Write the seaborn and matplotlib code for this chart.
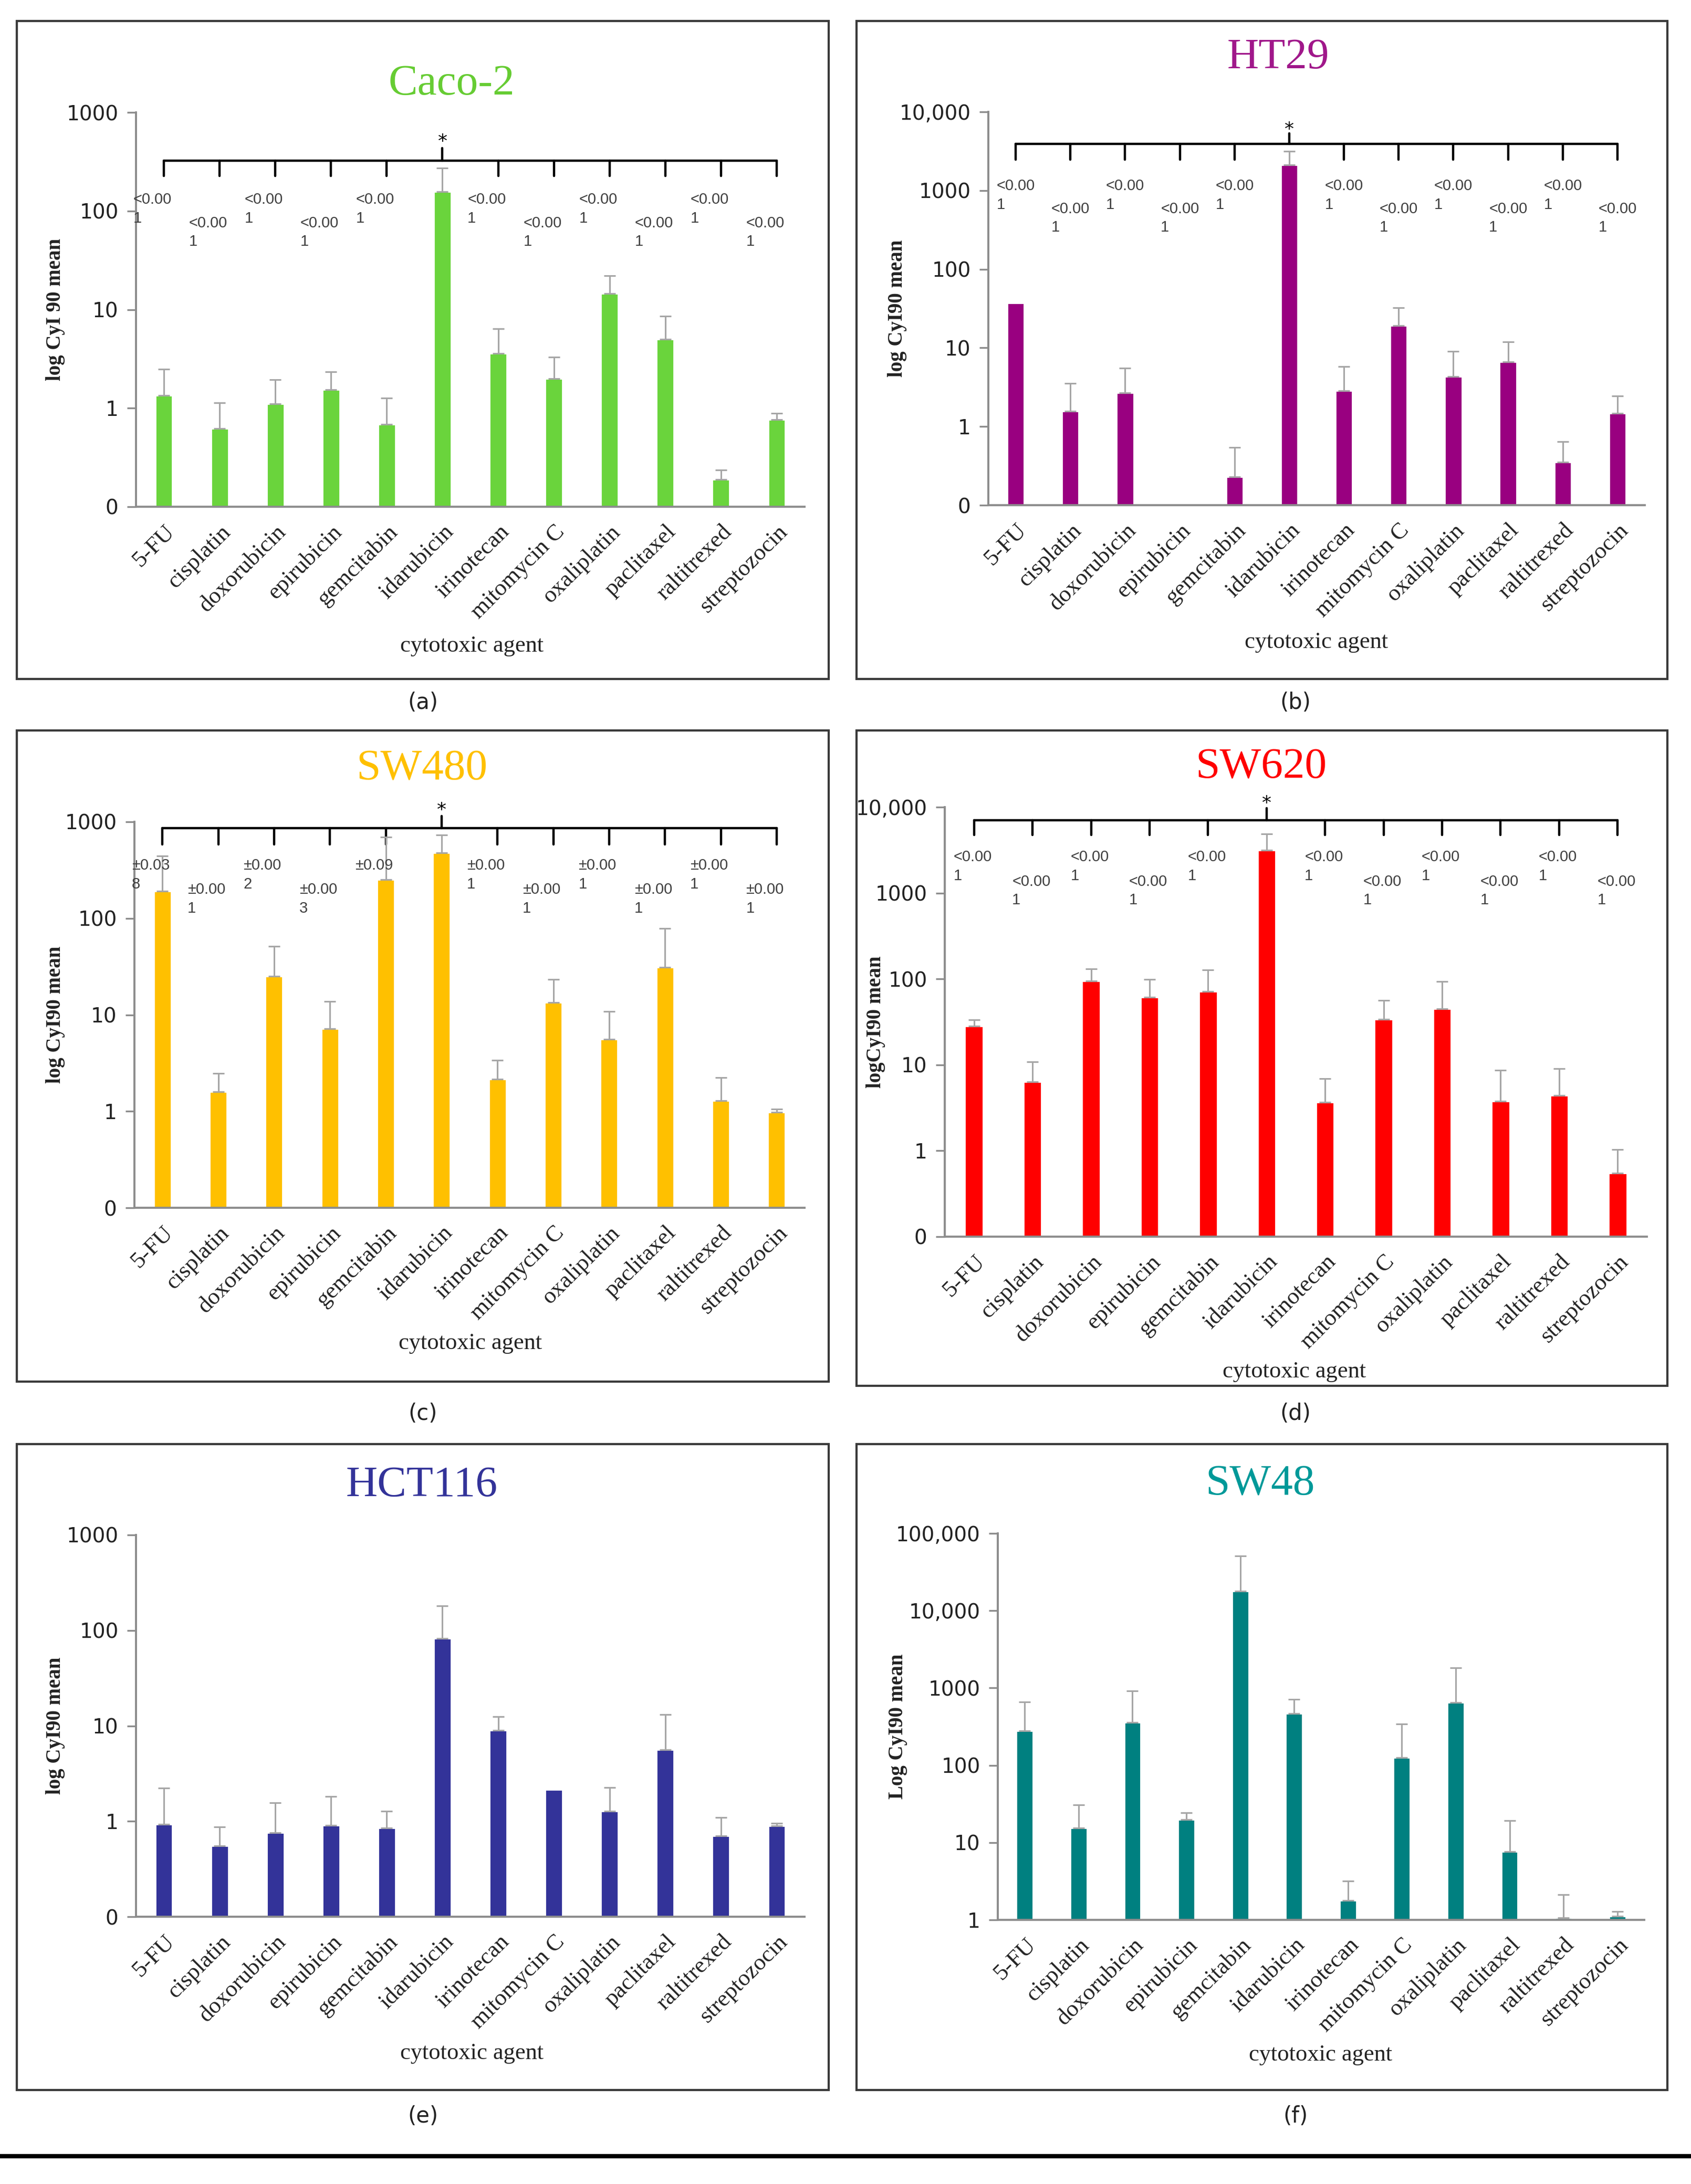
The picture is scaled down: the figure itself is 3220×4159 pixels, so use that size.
import numpy as np
import pandas as pd
import matplotlib
matplotlib.use("Agg")
import matplotlib.pyplot as plt
import seaborn as sns
from matplotlib.patches import Rectangle
from matplotlib.lines import Line2D
from matplotlib.transforms import blended_transform_factory
from matplotlib.ticker import NullLocator

# ---------------- data ----------------
agents = ["5-FU", "cisplatin", "doxorubicin", "epirubicin", "gemcitabin", "idarubicin",
          "irinotecan", "mitomycin C", "oxaliplatin", "paclitaxel", "raltitrexed", "streptozocin"]

caco2_mean = [1.35, 0.62, 1.10, 1.55, 0.69, 156, 3.6, 2.0, 14.5, 5.0, 0.19, 0.77]
caco2_sd = [1.15, 0.52, 0.85, 0.80, 0.58, 115, 2.8, 1.3, 7.5, 3.6, 0.045, 0.12]

ht29_mean = [37, 1.56, 2.7, np.nan, 0.23, 2110, 2.86, 19.3, 4.3, 6.6, 0.35, 1.48]
ht29_sd = [0, 2.0, 2.8, np.nan, 0.31, 1050, 2.9, 13, 4.7, 5.4, 0.29, 0.97]

sw480_mean = [191, 1.59, 25.2, 7.2, 251, 480, 2.16, 13.5, 5.6, 30.9, 1.29, 0.975]
sw480_sd = [250, 0.89, 26, 6.5, 446, 254, 1.24, 9.7, 5.2, 48, 0.94, 0.085]

sw620_mean = [28.2, 6.4, 95, 61, 72, 3140, 3.67, 34, 45, 3.8, 4.4, 0.55]
sw620_sd = [5.2, 4.5, 36, 38, 56, 1750, 3.2, 22, 48, 4.9, 4.6, 0.49]

hct116_mean = [0.935, 0.55, 0.76, 0.91, 0.85, 82.6, 8.95, 2.14, 1.27, 5.64, 0.70, 0.89]
hct116_sd = [1.29, 0.32, 0.80, 0.92, 0.42, 99, 3.55, 0, 1.0, 7.5, 0.40, 0.067]

sw48_mean = [277, 15.5, 360, 19.8, 17900, 469, 1.77, 126, 646, 7.7, 1.06, 1.12]
sw48_sd = [378, 15.2, 556, 4.5, 33300, 246, 1.39, 214, 1174, 11.6, 1.07, 0.16]

p_lt = ["<0.00\n1"] * 5 + [""] + ["<0.00\n1"] * 6
sw480_p = ["\u00b10.03\n8", "\u00b10.00\n1", "\u00b10.00\n2", "\u00b10.00\n3", "\u00b10.09", "",
           "\u00b10.00\n1", "\u00b10.00\n1", "\u00b10.00\n1", "\u00b10.00\n1", "\u00b10.00\n1", "\u00b10.00\n1"]

ticks_3 = (["0", "1", "10", "100", "1000"], 0.1)
ticks_4 = (["0", "1", "10", "100", "1000", "10,000"], 0.1)
ticks_48 = (["1", "10", "100", "1000", "10,000", "100,000"], 1.0)

# ---------------- style ----------------
sns.set_style("white")
plt.rcParams["font.family"] = ["DejaVu Sans"]
SERIF = ["Liberation Serif", "DejaVu Serif"]

W, H = 3220, 4159
DPI = 200
fig = plt.figure(figsize=(W / DPI, H / DPI), dpi=DPI)
fig.patch.set_facecolor("white")


def fx(px):
    return px / W


def fy(py):
    return 1 - py / H


HIGH_LOW = ["H", "L", "H", "L", "H", None, "H", "L", "H", "L", "H", "L"]


def panel(rect_px, frame_px, title, tcol, title_xy, means, sds, color, ticks, ylabel,
          ylabel_x, xlabel_xy, letter_xy, letter, pvals=None, bracket=None):
    x0, y0, x1, y1 = rect_px
    ax = fig.add_axes([fx(x0), fy(y1), (x1 - x0) / W, (y1 - y0) / H])
    df = pd.DataFrame({"agent": agents, "mean": means})
    sns.barplot(data=df, x="agent", y="mean", order=agents, color=color, width=0.31,
                saturation=1, errorbar=None, ax=ax, zorder=2)
    ax.set_yscale("log")
    labels, bottom = ticks
    decs = [bottom * 10 ** k for k in range(len(labels))]
    ax.set_ylim(decs[0], decs[-1])
    ax.set_xlim(-0.5, 11.5)
    ax.set_yticks(decs)
    ax.set_yticklabels(labels, fontsize=14, color="#222222")
    ax.yaxis.set_minor_locator(NullLocator())
    # error bars (upper only)
    m = np.array(means, dtype=float)
    s = np.array(sds, dtype=float)
    xs = np.arange(len(agents))
    ok = np.isfinite(m) & np.isfinite(s) & (s > 0)
    ax.errorbar(xs[ok], m[ok], yerr=[np.zeros(ok.sum()), s[ok]], fmt="none",
                ecolor="#a6a6a6", elinewidth=1.1, capsize=4, capthick=1.1, zorder=3)
    # x axis
    ax.set_xticks(xs)
    ax.set_xticklabels(agents, rotation=45, ha="right", rotation_mode="anchor",
                       fontsize=16, family=SERIF, color="#222222")
    ax.tick_params(axis="x", which="major", length=0, pad=10)
    ax.set_xticks(np.arange(-0.5, 12, 1), minor=True)
    ax.tick_params(axis="x", which="minor", length=6, width=1.2, color="#8c8c8c", direction="out")
    ax.tick_params(axis="y", which="major", length=6, width=1.2, color="#8c8c8c",
                   direction="out", left=True, pad=6)
    ax.set_xlabel("")
    ax.set_ylabel("")
    for sp in ["top", "right"]:
        ax.spines[sp].set_visible(False)
    for sp in ["left", "bottom"]:
        ax.spines[sp].set_color("#8c8c8c")
        ax.spines[sp].set_linewidth(1.4)
    ax.set_facecolor("none")

    # bracket + p-values
    if bracket is not None:
        yl, yt, yu, ys, hi, lo, dx = bracket
        tr = blended_transform_factory(ax.transData, ax.transAxes)
        ax.add_line(Line2D([0, 11], [yl, yl], transform=tr, color="black", lw=1.6, clip_on=False))
        for i in range(12):
            if i == 5:
                ax.add_line(Line2D([i, i], [yl, yu], transform=tr, color="black", lw=1.6, clip_on=False))
            else:
                ax.add_line(Line2D([i, i], [yl, yt], transform=tr, color="black", lw=1.6, clip_on=False))
        ax.text(5, ys, "*", transform=tr, ha="center", va="center", fontsize=13, color="black")
        for i, (p, lv) in enumerate(zip(pvals, HIGH_LOW)):
            if not p or lv is None:
                continue
            yy = hi if lv == "H" else lo
            ax.text(i + dx, yy + 0.02, p, transform=tr, ha="left", va="top",
                    fontsize=10.5, family=["Liberation Sans", "DejaVu Sans"],
                    color="#404040", linespacing=1.35, zorder=4)

    # frame, title, labels
    fx0, fy0, fx1, fy1 = frame_px
    fig.add_artist(Rectangle((fx(fx0), fy(fy1)), (fx1 - fx0) / W, (fy1 - fy0) / H,
                             transform=fig.transFigure, fill=False, edgecolor="#3a3a3a", lw=1.5))
    fig.text(fx(title_xy[0]), fy(title_xy[1]), title, ha="center", va="center",
             fontsize=30, family=SERIF, color=tcol)
    fig.text(fx(ylabel_x), fy((y0 + y1) / 2), ylabel, rotation=90, ha="center", va="center",
             fontsize=14, family=SERIF, fontweight="bold", color="#222222")
    fig.text(fx(xlabel_xy[0]), fy(xlabel_xy[1]), "cytotoxic agent", ha="center", va="center",
             fontsize=16, family=SERIF, color="#222222")
    fig.text(fx(letter_xy[0]), fy(letter_xy[1]), letter, ha="center", va="center",
             fontsize=15, color="#222222")
    return ax


# (a) Caco-2
panel((259, 214, 1532, 965), (32, 40, 1578, 1293), "Caco-2", "#66cc33", (860, 160),
      caco2_mean, caco2_sd, "#6ad43c", ticks_3, "log CyI 90 mean", 106, (899, 1230),
      (805, 1338), "(a)", p_lt, (0.878, 0.839, 0.91, 0.925, 0.777, 0.718, -0.55))
# (b) HT29
panel((1882, 213, 3132, 962), (1631, 40, 3175, 1293), "HT29", "#a0178a", (2434, 110),
      ht29_mean, ht29_sd, "#990080", ticks_4, "log CyI90 mean", 1708, (2507, 1223),
      (2467, 1338), "(b)", p_lt, (0.919, 0.878, 0.945, 0.955, 0.81, 0.752, -0.35))
# (c) SW480
panel((256, 1565, 1532, 2300), (32, 1391, 1578, 2631), "SW480", "#ffc000", (803, 1465),
      sw480_mean, sw480_sd, "#ffc000", ticks_3, "log CyI90 mean", 106, (896, 2558),
      (805, 2692), "(c)", sw480_p, (0.984, 0.942, 1.015, 1.03, 0.886, 0.823, -0.55))
# (d) SW620
panel((1799, 1537, 3136, 2355), (1631, 1391, 3175, 2639), "SW620", "#ff0000", (2401, 1462),
      sw620_mean, sw620_sd, "#ff0000", ticks_4, "logCyI90 mean", 1667, (2465, 2612),
      (2467, 2692), "(d)", p_lt, (0.970, 0.935, 0.998, 1.008, 0.881, 0.824, -0.35))
# (e) HCT116
panel((259, 2923, 1532, 3650), (32, 2750, 1578, 3980), "HCT116", "#333399", (803, 2829),
      hct116_mean, hct116_sd, "#333399", ticks_3, "log CyI90 mean", 106, (899, 3910),
      (805, 4030), "(e)")
# (f) SW48
panel((1900, 2920, 3131, 3656), (1631, 2750, 3175, 3980), "SW48", "#009999", (2400, 2827),
      sw48_mean, sw48_sd, "#008080", ticks_48, "Log CyI90 mean", 1710, (2515, 3913),
      (2467, 4030), "(f)")

fig.add_artist(Line2D([0, 1], [fy(4106), fy(4106)], transform=fig.transFigure,
                      color="black", lw=3))

fig.savefig("out.png", dpi=DPI, facecolor="white")
